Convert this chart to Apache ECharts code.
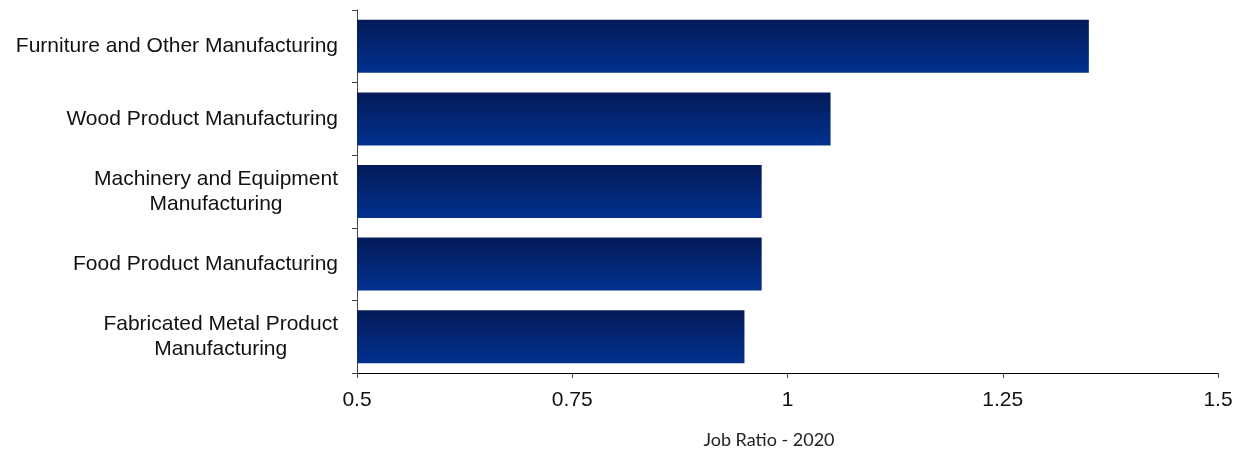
<!DOCTYPE html>
<html>
<head>
<meta charset="utf-8">
<title>Job Ratio - 2020</title>
<script src="https://cdn.jsdelivr.net/npm/echarts@6/dist/echarts.min.js"></script>
<style>
  html, body { margin: 0; padding: 0; background: #fff; }
  #chart { width: 1236px; height: 451px; }
</style>
</head>
<body>
<div id="chart"></div>
<script>
// Industries, top to bottom
const categories = [
  'Furniture and Other Manufacturing',
  'Wood Product Manufacturing',
  'Machinery and Equipment\nManufacturing',
  'Food Product Manufacturing',
  'Fabricated Metal Product\nManufacturing'
];
// Job ratio per industry
const jobRatio = [1.35, 1.05, 0.97, 0.97, 0.95];
// Value axis range and step
const axisMin = 0.5;
const axisMax = 1.5;
const axisStep = 0.25;
const axisTitle = 'Job Ratio - 2020';

const chart = echarts.init(document.getElementById('chart'), null, { renderer: 'canvas' });

const labelFont = '"Liberation Sans", Arial, sans-serif';

chart.setOption({
  animation: false,
  backgroundColor: '#ffffff',
  grid: { left: 357, right: 18, top: 10, bottom: 78, containLabel: false },
  xAxis: {
    type: 'value',
    min: axisMin,
    max: axisMax,
    interval: axisStep,
    axisLine: { show: true, lineStyle: { color: '#000', width: 1 } },
    axisTick: { show: true, length: 5, lineStyle: { color: '#444' } },
    splitLine: { show: false },
    axisLabel: {
      color: '#111',
      fontFamily: labelFont,
      fontSize: 21,
      margin: 17,
      formatter: v => String(+v.toFixed(2))
    }
  },
  yAxis: {
    type: 'category',
    data: categories,
    inverse: true,
    axisLine: { show: true, lineStyle: { color: '#444', width: 1 } },
    axisTick: { show: true, length: 5, lineStyle: { color: '#444' } },
    splitLine: { show: false },
    axisLabel: {
      color: '#111',
      fontFamily: labelFont,
      fontSize: 21,
      margin: 19,
      align: 'right',
      lineHeight: 25,
      formatter: v => v.split('\n').map(s => '{c|' + s + '}').join('\n'),
      rich: {
        c: {
          align: 'center',
          fontFamily: labelFont,
          fontSize: 21,
          lineHeight: 25,
          color: '#111'
        }
      }
    }
  },
  series: [{
    type: 'bar',
    data: jobRatio,
    barWidth: '73%',
    itemStyle: {
      color: new echarts.graphic.LinearGradient(0, 0, 0, 1, [
        { offset: 0, color: '#041a58' },
        { offset: 1, color: '#02318f' }
      ])
    }
  }],
  graphic: [{
    type: 'text',
    x: 769,
    y: 440,
    style: {
      text: axisTitle,
      fill: '#222',
      font: '18px Lato, "Open Sans", sans-serif',
      textAlign: 'center',
      textVerticalAlign: 'middle'
    }
  }]
});
</script>
</body>
</html>
